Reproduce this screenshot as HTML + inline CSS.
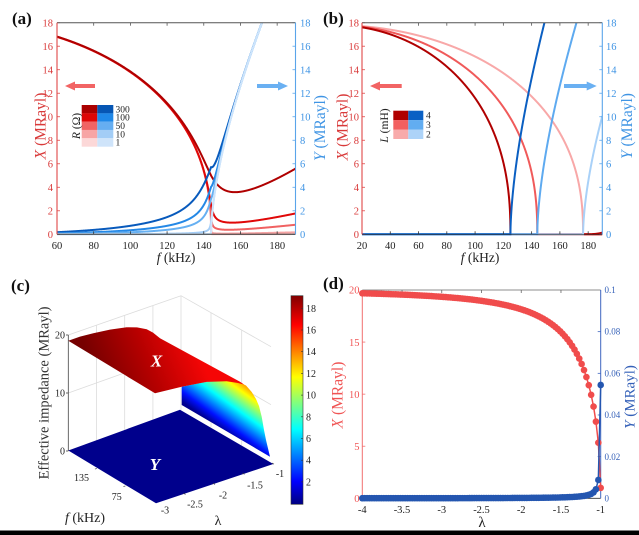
<!DOCTYPE html>
<html><head><meta charset="utf-8"><style>
html,body{margin:0;padding:0;background:#fff;width:639px;height:535px;overflow:hidden}
svg{display:block;font-family:"Liberation Serif","DejaVu Serif",serif}
text{font-family:"Liberation Serif","DejaVu Serif",serif}
</style></head><body>
<svg id="S" xmlns="http://www.w3.org/2000/svg" width="639" height="535" viewBox="0 0 639 535" font-family="'Liberation Serif','DejaVu Serif',serif">
<defs>
<clipPath id="ca"><rect x="57" y="22.7" width="238.5" height="213"/></clipPath>
<clipPath id="cb"><rect x="362" y="22.7" width="240.3" height="213"/></clipPath>
<linearGradient id="jetv" x1="0" y1="1" x2="0" y2="0">
<stop offset="0" stop-color="#000080"/><stop offset="0.11" stop-color="#0000ff"/><stop offset="0.36" stop-color="#00ffff"/><stop offset="0.61" stop-color="#ffff00"/><stop offset="0.86" stop-color="#ff0000"/><stop offset="1" stop-color="#800000"/>
</linearGradient>
<linearGradient id="jetf" gradientUnits="userSpaceOnUse" x1="215.7" y1="426" x2="256.3" y2="369.6">
<stop offset="0" stop-color="#000090"/><stop offset="0.12" stop-color="#0010ff"/><stop offset="0.375" stop-color="#00ffff"/><stop offset="0.625" stop-color="#ffff00"/><stop offset="0.875" stop-color="#ff1000"/><stop offset="1" stop-color="#c00000"/>
</linearGradient>
<linearGradient id="redg" gradientUnits="userSpaceOnUse" x1="95" y1="372" x2="190" y2="332">
<stop offset="0" stop-color="#760000"/><stop offset="0.5" stop-color="#b50000"/><stop offset="1" stop-color="#f50606"/>
</linearGradient>
</defs>

<!-- ============ PANEL (a) ============ -->
<g id="ga" clip-path="url(#ca)"></g>
<g id="ta"></g>
<line x1="57" y1="22.7" x2="295.5" y2="22.7" stroke="#555" stroke-width="1"/>
<line x1="57" y1="234.3" x2="295.5" y2="234.3" stroke="#333" stroke-width="1"/>
<line x1="57" y1="22.7" x2="57" y2="234.3" stroke="#e04848" stroke-width="1.1"/>
<line x1="295.5" y1="22.7" x2="295.5" y2="234.3" stroke="#5aa5ea" stroke-width="1.1"/>
<g font-size="10.5" fill="#d93a3a" text-anchor="end">
<text x="53" y="238">0</text><text x="53" y="214.5">2</text><text x="53" y="191">4</text><text x="53" y="167.5">6</text><text x="53" y="144">8</text><text x="53" y="120.4">10</text><text x="53" y="96.9">12</text><text x="53" y="73.4">14</text><text x="53" y="49.9">16</text><text x="53" y="26.4">18</text>
</g>
<g font-size="10.5" fill="#3f94e4" text-anchor="start">
<text x="300" y="238">0</text><text x="300" y="214.5">2</text><text x="300" y="191">4</text><text x="300" y="167.5">6</text><text x="300" y="144">8</text><text x="300" y="120.4">10</text><text x="300" y="96.9">12</text><text x="300" y="73.4">14</text><text x="300" y="49.9">16</text><text x="300" y="26.4">18</text>
</g>
<g font-size="10.5" fill="#222" text-anchor="middle">
<text x="57" y="249">60</text><text x="93.7" y="249">80</text><text x="130.4" y="249">100</text><text x="167.1" y="249">120</text><text x="203.8" y="249">140</text><text x="240.5" y="249">160</text><text x="277.2" y="249">180</text>
</g>
<text x="176" y="262" font-size="13.5" fill="#222" text-anchor="middle"><tspan font-style="italic">f</tspan> (kHz)</text>
<text transform="translate(45.5,126) rotate(-90)" font-size="15.5" fill="#d93a3a" text-anchor="middle"><tspan font-style="italic">X</tspan> (MRayl)</text>
<text transform="translate(325,128) rotate(-90)" font-size="15.5" fill="#3f94e4" text-anchor="middle"><tspan font-style="italic">Y</tspan> (MRayl)</text>
<polygon points="65,86 75,81.5 75,84 95,84 95,88 75,88 75,90.5" fill="#f26464"/>
<polygon points="288,86 278,81.5 278,84 257,84 257,88 278,88 278,90.5" fill="#6ab0f2"/>
<rect x="81.7" y="105" width="15.6" height="8.4" fill="#aa0000"/>
<rect x="81.7" y="113.3" width="15.6" height="8.4" fill="#dd0606"/>
<rect x="81.7" y="121.6" width="15.6" height="8.4" fill="#f06464"/>
<rect x="81.7" y="129.9" width="15.6" height="8.4" fill="#f7a5a5"/>
<rect x="81.7" y="138.2" width="15.6" height="8.5" fill="#fcd8d8"/>
<rect x="97.3" y="105" width="16" height="8.4" fill="#0656b4"/>
<rect x="97.3" y="113.3" width="16" height="8.4" fill="#1f88e8"/>
<rect x="97.3" y="121.6" width="16" height="8.4" fill="#66aef1"/>
<rect x="97.3" y="129.9" width="16" height="8.4" fill="#a3cdf6"/>
<rect x="97.3" y="138.2" width="16" height="8.5" fill="#cfe4fa"/>
<g font-size="9.5" fill="#222">
<text x="115.5" y="112.4">300</text><text x="115.5" y="120.7">100</text><text x="115.5" y="129">50</text><text x="115.5" y="137.4">10</text><text x="115.5" y="145.7">1</text>
</g>
<text transform="translate(80,126) rotate(-90)" font-size="11.5" fill="#222" text-anchor="middle"><tspan font-style="italic">R</tspan> (Ω)</text>
<text x="12" y="24" font-size="17" font-weight="bold" fill="#111">(a)</text>

<!-- ============ PANEL (b) ============ -->
<g id="gb" clip-path="url(#cb)"></g>
<g id="tb"></g>
<line x1="362" y1="22.7" x2="602.3" y2="22.7" stroke="#555" stroke-width="1"/>
<line x1="362" y1="234.3" x2="602.3" y2="234.3" stroke="#333" stroke-width="0.6"/>
<line x1="362" y1="22.7" x2="362" y2="234.3" stroke="#e04848" stroke-width="1.1"/>
<line x1="602.3" y1="22.7" x2="602.3" y2="234.3" stroke="#5aa5ea" stroke-width="1.1"/>
<g font-size="10.5" fill="#d93a3a" text-anchor="end">
<text x="359" y="238">0</text><text x="359" y="214.5">2</text><text x="359" y="191">4</text><text x="359" y="167.5">6</text><text x="359" y="144">8</text><text x="359" y="120.4">10</text><text x="359" y="96.9">12</text><text x="359" y="73.4">14</text><text x="359" y="49.9">16</text><text x="359" y="26.4">18</text>
</g>
<g font-size="10.5" fill="#3f94e4" text-anchor="start">
<text x="606" y="238">0</text><text x="606" y="214.5">2</text><text x="606" y="191">4</text><text x="606" y="167.5">6</text><text x="606" y="144">8</text><text x="606" y="120.4">10</text><text x="606" y="96.9">12</text><text x="606" y="73.4">14</text><text x="606" y="49.9">16</text><text x="606" y="26.4">18</text>
</g>
<g font-size="10.5" fill="#222" text-anchor="middle">
<text x="362" y="249">20</text><text x="390.3" y="249">40</text><text x="418.5" y="249">60</text><text x="446.8" y="249">80</text><text x="475.1" y="249">100</text><text x="503.4" y="249">120</text><text x="531.6" y="249">140</text><text x="559.9" y="249">160</text><text x="588.2" y="249">180</text>
</g>
<text x="480" y="262" font-size="13.5" fill="#222" text-anchor="middle"><tspan font-style="italic">f</tspan> (kHz)</text>
<text transform="translate(347.5,127) rotate(-90)" font-size="15.5" fill="#d93a3a" text-anchor="middle"><tspan font-style="italic">X</tspan> (MRayl)</text>
<text transform="translate(632,126) rotate(-90)" font-size="15.5" fill="#3f94e4" text-anchor="middle"><tspan font-style="italic">Y</tspan> (MRayl)</text>
<polygon points="370,86 380,81.5 380,84 401.7,84 401.7,88 380,88 380,90.5" fill="#f26464"/>
<polygon points="596.7,86 586.7,81.5 586.7,84 564,84 564,88 586.7,88 586.7,90.5" fill="#6ab0f2"/>
<rect x="393.3" y="110.7" width="15" height="9.5" fill="#b00000"/>
<rect x="393.3" y="120.1" width="15" height="9.5" fill="#f26060"/>
<rect x="393.3" y="129.5" width="15" height="9.5" fill="#f8aaaa"/>
<rect x="408.3" y="110.7" width="15" height="9.5" fill="#0a60c4"/>
<rect x="408.3" y="120.1" width="15" height="9.5" fill="#62adf1"/>
<rect x="408.3" y="129.5" width="15" height="9.5" fill="#add3f8"/>
<g font-size="9.5" fill="#222">
<text x="426" y="118.6">4</text><text x="426" y="128">3</text><text x="426" y="137.4">2</text>
</g>
<text transform="translate(388,125.5) rotate(-90)" font-size="11.5" fill="#222" text-anchor="middle"><tspan font-style="italic">L</tspan> (mH)</text>
<text x="323" y="24" font-size="17" font-weight="bold" fill="#111">(b)</text>

<!-- ============ PANEL (c) ============ -->
<g stroke="#dcdcdc" stroke-width="0.8" fill="none">
<line x1="68.3" y1="335" x2="181" y2="295.7"/>
<line x1="181" y1="295.7" x2="271" y2="346.7"/>
<line x1="181" y1="295.7" x2="181" y2="409.7"/>
<line x1="96.5" y1="325.2" x2="96.5" y2="440.7"/>
<line x1="124.7" y1="315.3" x2="124.7" y2="430.4"/>
<line x1="152.9" y1="305.5" x2="152.9" y2="420"/>
<line x1="211" y1="312.7" x2="211" y2="427.3"/>
<line x1="241.7" y1="330.1" x2="241.7" y2="445.3"/>
<line x1="68.3" y1="393" x2="181" y2="352.7"/>
<line x1="181" y1="352.7" x2="271" y2="404.7"/>
</g>
<line x1="68.3" y1="335" x2="68.3" y2="451" stroke="#444" stroke-width="0.8"/>
<g stroke="#444" stroke-width="0.8">
<line x1="66" y1="335" x2="68.3" y2="335"/><line x1="66" y1="393" x2="68.3" y2="393"/><line x1="66" y1="451" x2="68.3" y2="451"/>
</g>
<g font-size="10" fill="#222" text-anchor="end">
<text x="65" y="338.5">20</text><text x="65" y="396.5">10</text><text x="65" y="454.5">0</text>
</g>
<polygon points="68.3,450.5 180,409.7 273.3,464 156,503.3" fill="#00008c"/>
<polygon points="181.7,386.7 206.7,381.7 226.7,380.5 238,381.5 246,385.5 251.7,392 256,399 259,406 261.7,416.7 264,430 266,440 270,456.7 181.7,405" fill="url(#jetf)"/>
<polygon points="68.3,340.7 80,336.6 93.3,333.3 110,329.6 126.7,327.3 137,327.4 146.7,329.3 153,332.6 160,338.3 200,360 240,381.7 244,384.5 238,383 226.7,381.3 206.7,381.9 181.7,386.7 155,393.3" fill="url(#redg)"/>
<text x="156.5" y="366.5" font-size="17" font-weight="bold" font-style="italic" fill="#fff" text-anchor="middle">X</text>
<text x="155" y="470" font-size="17" font-weight="bold" font-style="italic" fill="#fff" text-anchor="middle">Y</text>
<g stroke="#444" stroke-width="0.7">
<line x1="183.5" y1="493.2" x2="185.5" y2="494.4"/><line x1="213" y1="483.2" x2="215" y2="484.4"/><line x1="242.5" y1="473.1" x2="244.5" y2="474.3"/><line x1="272" y1="463" x2="274" y2="464.2"/>
<line x1="125.4" y1="485.9" x2="123.4" y2="486.6"/><line x1="96.9" y1="468.4" x2="94.9" y2="469.1"/>
</g>
<g font-size="10" fill="#222" text-anchor="middle">
<text x="165" y="513.5">-3</text><text x="195" y="507.5">-2.5</text><text x="223" y="498.5">-2</text><text x="255" y="488.5">-1.5</text><text x="280" y="477">-1</text>
<text x="81.5" y="480.8">135</text><text x="116.7" y="500.2">75</text>
</g>
<text x="218" y="525" font-size="14" fill="#222" text-anchor="middle">λ</text>
<text x="65" y="522" font-size="14" fill="#222"><tspan font-style="italic">f</tspan> (kHz)</text>
<text transform="translate(48.5,393) rotate(-90)" font-size="14.5" fill="#333" text-anchor="middle">Effective impedance (MRayl)</text>
<rect x="291" y="295.7" width="12" height="208.6" fill="url(#jetv)" stroke="#333" stroke-width="0.6"/>
<g stroke="#333" stroke-width="0.6">
<line x1="301" y1="308.3" x2="303" y2="308.3"/><line x1="301" y1="330" x2="303" y2="330"/><line x1="301" y1="351.7" x2="303" y2="351.7"/><line x1="301" y1="373.4" x2="303" y2="373.4"/><line x1="301" y1="395.1" x2="303" y2="395.1"/><line x1="301" y1="416.8" x2="303" y2="416.8"/><line x1="301" y1="438.5" x2="303" y2="438.5"/><line x1="301" y1="460.2" x2="303" y2="460.2"/><line x1="301" y1="481.9" x2="303" y2="481.9"/>
</g>
<g font-size="10" fill="#222">
<text x="306" y="311.8">18</text><text x="306" y="333.5">16</text><text x="306" y="355.2">14</text><text x="306" y="376.9">12</text><text x="306" y="398.6">10</text><text x="306" y="420.3">8</text><text x="306" y="442">6</text><text x="306" y="463.7">4</text><text x="306" y="485.4">2</text>
</g>
<text x="11" y="291" font-size="17" font-weight="bold" fill="#111">(c)</text>

<!-- ============ PANEL (d) ============ -->
<g id="td"></g>
<line x1="362.3" y1="290" x2="600.7" y2="290" stroke="#666" stroke-width="0.8"/>
<line x1="362.3" y1="498.3" x2="600.7" y2="498.3" stroke="#333" stroke-width="0.8"/>
<line x1="362.3" y1="290" x2="362.3" y2="498.3" stroke="#f27070" stroke-width="1"/>
<line x1="600.7" y1="290" x2="600.7" y2="498.3" stroke="#3f66c0" stroke-width="1"/>
<g id="gd"></g>
<g font-size="10.5" fill="#f05454" text-anchor="end">
<text x="359.5" y="502">0</text><text x="359.5" y="450">5</text><text x="359.5" y="397.9">10</text><text x="359.5" y="345.8">15</text><text x="359.5" y="293.7">20</text>
</g>
<g font-size="9" fill="#3460b8" text-anchor="start">
<text x="604.5" y="501.4">0</text><text x="604.5" y="459.8">0.02</text><text x="604.5" y="418.1">0.04</text><text x="604.5" y="376.4">0.06</text><text x="604.5" y="334.7">0.08</text><text x="604.5" y="293.1">0.1</text>
</g>
<g font-size="10.5" fill="#222" text-anchor="middle">
<text x="362.3" y="513">-4</text><text x="402" y="513">-3.5</text><text x="441.8" y="513">-3</text><text x="481.5" y="513">-2.5</text><text x="521.2" y="513">-2</text><text x="561" y="513">-1.5</text><text x="600.7" y="513">-1</text>
</g>
<text x="482" y="527" font-size="15" fill="#222" text-anchor="middle">λ</text>
<text transform="translate(342.5,395) rotate(-90)" font-size="15.5" fill="#f05454" text-anchor="middle"><tspan font-style="italic">X</tspan> (MRayl)</text>
<text transform="translate(634.5,397) rotate(-90)" font-size="15" fill="#3460b8" text-anchor="middle"><tspan font-style="italic">Y</tspan> (MRayl)</text>
<text x="323" y="289" font-size="17" font-weight="bold" fill="#111">(d)</text>

<rect x="0" y="530.5" width="639" height="4.5" fill="#000"/>
</svg>
<script>
(function(){
var NS='http://www.w3.org/2000/svg';
function add(p,tag,at){var e=document.createElementNS(NS,tag);for(var k in at)e.setAttribute(k,at[k]);p.appendChild(e);return e;}
function cs(re,im){var r=Math.sqrt(re*re+im*im);return Math.sqrt(Math.max(0,(r+re)/2));}
function yv(v){return 234.3-v*211.6/18;}
function xa(f){return 57+(f-60)*238.5/130;}
function xb(f){return 362+(f-20)*240.3/170;}
function mk(fn,a,b,n,xm,ym){var d='';for(var i=0;i<=n;i++){var t=a+(b-a)*i/n;var v=fn(t);if(!isFinite(v))v=40;v=Math.max(-2,Math.min(v,40));d+=(i?'L':'M')+xm(t).toFixed(2)+' '+ym(v).toFixed(2);}return d;}
var ga=document.getElementById('ga'),gb=document.getElementById('gb'),gd=document.getElementById('gd');
var ta=document.getElementById('ta'),tb=document.getElementById('tb'),td=document.getElementById('td');
var RS=[
 {rc:'#f9d0d0',bc:'#cde4fb',ex:0.00002,c:0.0002,ey:0.0008,n:2.3},
 {rc:'#f5a3a3',bc:'#a3cdf7',ex:0.0005,c:0.0015,ey:0.008,n:2.3},
 {rc:'#f06262',bc:'#66b0f2',ex:0.0052,c:0.0068,ey:0.0435,n:2.24},
 {rc:'#e00808',bc:'#2488e6',ex:0.0177,c:0.014,ey:0.07,n:1.91},
 {rc:'#b00000',bc:'#085abc',ex:0.092,c:0.0408,ey:0.125,n:1.82}
];
RS.forEach(function(p){
 add(ga,'path',{d:mk(function(f){var u=(f/144)*(f/144);return 18.2*Math.pow(cs(1-u,p.ex),0.84)+p.c*Math.pow(Math.max(0,f-144),1.2);},60,190,1300,xa,yv),fill:'none',stroke:p.rc,'stroke-width':2,'stroke-linejoin':'round'});
});
function Y1(f){var u=(f/144)*(f/144);return 30.2*Math.pow(Math.max(0,u-1),0.6);}
RS.slice().reverse().forEach(function(p){
 add(ga,'path',{d:mk(function(f){var u=(f/144)*(f/144);
   if(f<=144){var eta=p.ey*Math.pow(f/144,p.n);return 30.2*Math.pow(cs(u-1,eta),1.2);}
   var yr=30.2*Math.pow(cs(u-1,p.ey),1.2);var y1=Y1(f);var w=Math.exp(-(f-144)/10);return y1+(yr-y1)*w;},60,190,1300,xa,yv),fill:'none',stroke:p.bc,'stroke-width':2,'stroke-linejoin':'round'});
});
var LS=[{f0:176.4,rc:'#f8a8a8',bc:'#a9d1f8'},{f0:144,rc:'#f05a5a',bc:'#5eaaf0'},{f0:125,rc:'#b00000',bc:'#0b5fc2'}];
LS.forEach(function(p){
 add(gb,'path',{d:mk(function(f){var u=(f/p.f0)*(f/p.f0);return 17.8*Math.pow(Math.max(0,1-u),0.42);},20,190,1700,xb,yv),fill:'none',stroke:p.rc,'stroke-width':2});
});
LS.forEach(function(p){
 add(gb,'path',{d:mk(function(f){var u=(f/p.f0)*(f/p.f0);return 30.2*Math.pow(Math.max(0,u-1),0.6);},20,190,1700,xb,yv),fill:'none',stroke:p.bc,'stroke-width':2});
});
add(gb,'path',{d:'M'+xb(183)+' '+yv(0.02)+' Q'+xb(188)+' '+yv(0.05)+' '+xb(190)+' '+yv(0.15),fill:'none',stroke:'#b00000','stroke-width':2});
function tk(g,x1,y1,x2,y2,c){add(g,'line',{x1:x1,y1:y1,x2:x2,y2:y2,stroke:c,'stroke-width':0.8});}
for(var v=0;v<=18;v+=2){var y=yv(v);tk(ta,57,y,60,y,'#e04848');tk(ta,295.5,y,292.5,y,'#5aa5ea');tk(tb,362,y,365,y,'#e04848');tk(tb,602.3,y,599.3,y,'#5aa5ea');}
for(var f=80;f<=180;f+=20){var x=xa(f);tk(ta,x,234.3,x,231.3,'#333');tk(ta,x,22.7,x,25.7,'#555');}
for(var f=40;f<=180;f+=20){var x=xb(f);tk(tb,x,234.3,x,231.3,'#333');tk(tb,x,22.7,x,25.7,'#555');}
function xd(l){return 362.3+(l+4)*238.4/3;}
function yd(v){return 498.3-v*208.3/20;}
function yr(v){return 498.3-v*2083;}
for(var v=5;v<20;v+=5){tk(td,362.3,yd(v),365.3,yd(v),'#f27070');}
for(var k=1;k<5;k++){var y=yr(k*0.02);tk(td,600.7,y,597.7,y,'#3f66c0');}
for(var l=-3.5;l<-1;l+=0.5){var x=xd(l);tk(td,x,498.3,x,495.3,'#333');tk(td,x,290,x,293,'#666');}
var X=[],Y=[];
for(var i=0;i<=100;i++){var l=-4+0.03*i;var xv,yy;if(i==100){xv=1;yy=0.0544;}else{xv=20*Math.sqrt(1-Math.pow(-l,-2.5));yy=0.000536/(l*l-1);}X.push([xd(l),yd(xv)]);Y.push([xd(l),yr(yy)]);}
var dX='',dY='';X.forEach(function(p,i){dX+=(i?'L':'M')+p[0].toFixed(2)+' '+p[1].toFixed(2);});Y.forEach(function(p,i){dY+=(i?'L':'M')+p[0].toFixed(2)+' '+p[1].toFixed(2);});
add(gd,'path',{d:dX,fill:'none',stroke:'#f04c4c','stroke-width':1.5});
X.forEach(function(p){add(gd,'circle',{cx:p[0].toFixed(2),cy:p[1].toFixed(2),r:3.3,fill:'#f04c4c'});});
add(gd,'path',{d:dY,fill:'none',stroke:'#2456b0','stroke-width':1.5});
Y.forEach(function(p){add(gd,'circle',{cx:p[0].toFixed(2),cy:p[1].toFixed(2),r:3.3,fill:'#2456b0'});});
})();
</script>
</body></html>
